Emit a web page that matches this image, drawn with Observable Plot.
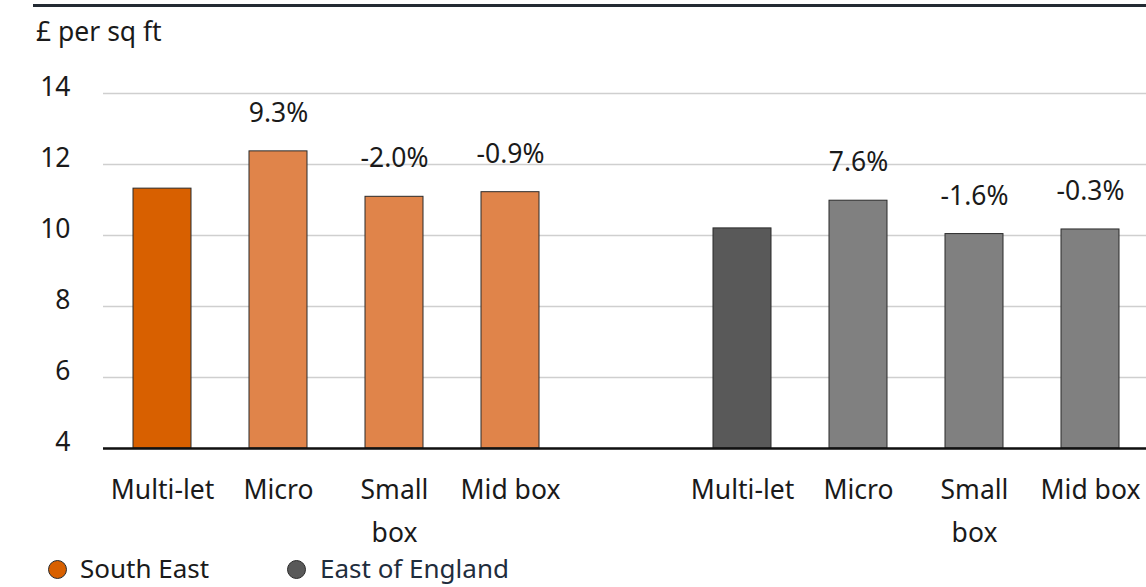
<!DOCTYPE html>
<html>
<head>
<meta charset="utf-8">
<script src="https://cdn.jsdelivr.net/npm/d3@7"></script>
<script src="https://cdn.jsdelivr.net/npm/@observablehq/plot@0.6"></script>
<style>
  body { margin: 0; background: #fff; font-family: "Noto Sans", sans-serif; color: #1a1a1a; }
  #wrap { position: relative; width: 1146px; height: 587px; overflow: hidden; }
  #rule { position: absolute; left: 33px; top: 4px; width: 1113px; height: 2.5px; background: #232a33; }
  #title { position: absolute; left: 36px; top: 15px; font-size: 26.5px; line-height: 32px; }
  #chart { position: absolute; left: 0; top: 50px; }
  .key { position: absolute; top: 554px; height: 28px; font-size: 26px; line-height: 28px; white-space: nowrap; }
  .dot { position: absolute; width: 17px; height: 17px; border-radius: 50%; border: 1.2px solid #2b2b2b; top: 6px; }
  .key span { position: absolute; top: 0; }
</style>
</head>
<body>
<div id="wrap">
  <div id="rule"></div>
  <div id="title">£ per sq ft</div>
  <div id="chart"></div>
  <div class="key" style="left:48px"><div class="dot" style="left:0;background:#d86000"></div><span style="left:32px">South East</span></div>
  <div class="key" style="left:287px"><div class="dot" style="left:0;background:#595959"></div><span style="left:33px;color:#1f2d3d">East of England</span></div>
</div>
<script>
// Rents by unit type, £ per sq ft
const regions = ["South East", "East of England"];
const unitTypes = ["Multi-let", "Micro", "Small box", "Mid box"];
const unitLabels = ["Multi-let", "Micro", "Small\nbox", "Mid box"];
const southEast = [11.32, 12.37, 11.09, 11.22];
const eastOfEngland = [10.20, 10.98, 10.04, 10.17];
const southEastChange = ["", "9.3%", "-2.0%", "-0.9%"];
const eastOfEnglandChange = ["", "7.6%", "-1.6%", "-0.3%"];
const yTicks = [4, 6, 8, 10, 12, 14];

const rows = [];
regions.forEach((region, r) => {
  const values = r === 0 ? southEast : eastOfEngland;
  const changes = r === 0 ? southEastChange : eastOfEnglandChange;
  unitTypes.forEach((u, i) => {
    rows.push({
      key: region + "|" + u,
      region,
      label: unitLabels[i],
      value: values[i],
      change: changes[i],
      fill: r === 0 ? (i === 0 ? "#d86000" : "#e0844a") : (i === 0 ? "#595959" : "#808080")
    });
  });
});

// one empty slot separates the two regions
const slots = [...rows.slice(0, 4).map(d => d.key), "gap", ...rows.slice(4).map(d => d.key)];

const chart = Plot.plot({
  width: 1146,
  height: 505,
  marginTop: 43,
  marginBottom: 107,
  marginLeft: 103,
  marginRight: 0,
  style: { fontFamily: "Noto Sans, sans-serif", fontSize: "26.5px", color: "#1a1a1a", overflow: "visible" },
  x: { domain: slots, range: [103, 1149], paddingInner: 0.5, paddingOuter: 0.25, axis: null },
  y: { domain: [4, 14], ticks: yTicks },
  marks: [
    Plot.gridY(yTicks, { stroke: "#cfcfcf", strokeOpacity: 1, strokeWidth: 1.5 }),
    Plot.axisY(yTicks, { tickSize: 0, tickPadding: 33, dy: -6, fontSize: 26.5, fill: "#1a1a1a", label: null }),
    Plot.barY(rows, { x: "key", y1: 4, y2: "value", fill: "fill", stroke: "#2b2b2b", strokeWidth: 1 }),
    Plot.ruleY([4], { stroke: "#111", strokeWidth: 2.5 }),
    Plot.text(rows, { x: "key", y: "value", text: "change", dy: -38, fontSize: 26.5, fill: "#1a1a1a" }),
    Plot.text(rows, { x: "key", text: "label", frameAnchor: "bottom", lineAnchor: "top", dy: 20, lineHeight: 1.62, fontSize: 26.5, fill: "#1a1a1a" })
  ]
});
document.getElementById("chart").appendChild(chart);
</script>
</body>
</html>
